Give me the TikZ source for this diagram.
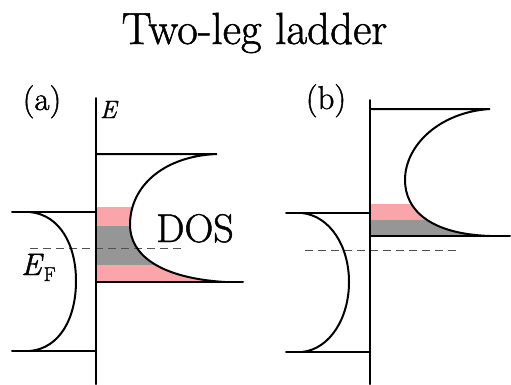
\documentclass[tikz,border=0pt]{standalone}
\usepackage{fontspec}
\setmainfont{Latin Modern Roman}[FakeBold=1.2]
\definecolor{bandpink}{RGB}{250,165,170}
\definecolor{bandgray}{RGB}{150,150,150}
\definecolor{dashgray}{RGB}{80,80,80}
\begin{document}
\begin{tikzpicture}[x=1pt,y=-1pt,
  edge/.style={line width=2pt,black,line cap=round},
  fermi/.style={line width=1pt,dashgray,dash pattern=on 8pt off 5pt},
  lbl/.style={inner sep=0pt,outer sep=0pt}]
\useasboundingbox (0,0) rectangle (511,384);
% ---------- panel (a) ----------
\begin{scope}
  \clip (96,154) -- (217,154) .. controls (165,156) and (130,185) .. (130,225)
        .. controls (130,255) and (160,278) .. (225,282) -- (96,282) -- cycle;
  \fill[bandpink] (96,207) rectangle (250,282);
  \fill[bandgray] (96,226) rectangle (250,265);
\end{scope}
\draw[fermi] (30,248) -- (185,248);
\draw[edge] (96,98) -- (96,384);
\draw[edge] (96,154) -- (217,154) .. controls (165,156) and (130,185) .. (130,225)
        .. controls (130,255) and (160,278) .. (225,282);
\draw[edge] (96,282) -- (243,282);
\draw[edge] (12,212) -- (96,212);
\draw[edge] (12,351) -- (96,351);
\draw[edge] (30,212) .. controls (60,215) and (76,245) .. (76,281)
        .. controls (76,318) and (60,348) .. (30,351);
% ---------- panel (b) ----------
\begin{scope}
  \clip (370,109) -- (490,109) .. controls (440,112) and (405,145) .. (405,180)
        .. controls (405,210) and (430,234) .. (490,236) -- (370,236) -- cycle;
  \fill[bandpink] (370,204) rectangle (511,236);
  \fill[bandgray] (370,220) rectangle (511,236);
\end{scope}
\draw[fermi] (305,250) -- (459,250);
\draw[edge] (370,100) -- (370,384);
\draw[edge] (370,109) -- (490,109) .. controls (440,112) and (405,145) .. (405,180)
        .. controls (405,210) and (430,234) .. (490,236);
\draw[edge] (370,236) -- (510,236);
\draw[edge] (286,213) -- (370,213);
\draw[edge] (286,352) -- (370,352);
\draw[edge] (302,213) .. controls (330,216) and (349,246) .. (349,282)
        .. controls (349,318) and (330,349) .. (302,352);
% ---------- labels ----------
\node[lbl,anchor=base] (title) at (254.5,44) {\fontsize{45}{45}\selectfont Two-leg ladder};
\node[lbl,anchor=base] (pa) at (42,110) {\fontsize{33}{33}\selectfont (a)};
\node[lbl,anchor=base] (pb) at (326,109) {\fontsize{33}{33}\selectfont (b)};
\node[lbl,anchor=base west] (E) at (100,118) {\fontsize{25}{25}\selectfont\itshape E};
\node[lbl,anchor=base west] (EF) at (21,275) {\fontsize{31}{31}\selectfont\itshape E\/\upshape\raisebox{-6pt}{\fontsize{20}{20}\selectfont F}};
\node[lbl,anchor=base] (dos) at (195,242) {\fontsize{40}{40}\selectfont DOS};
\end{tikzpicture}
\end{document}
